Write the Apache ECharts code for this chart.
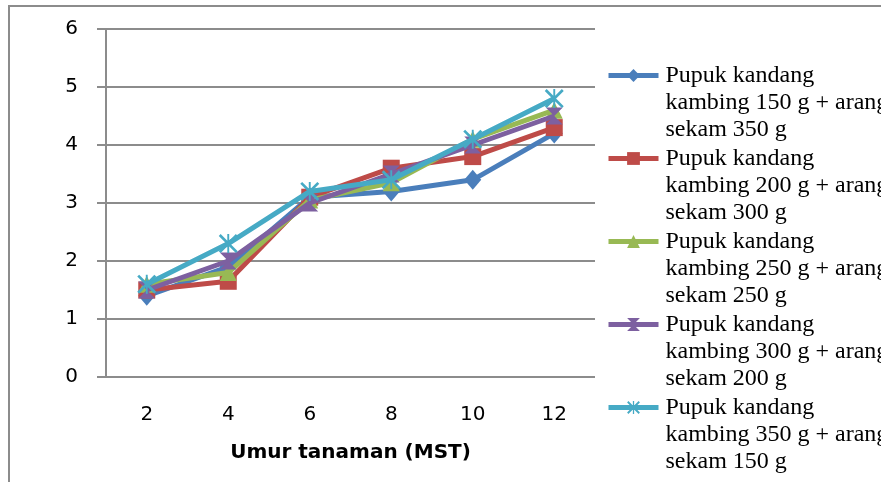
<!DOCTYPE html>
<html lang="id">
<head>
    <meta charset="UTF-8">
    <title>Umur tanaman (MST)</title>
    <script src="https://cdn.jsdelivr.net/npm/echarts/dist/echarts.min.js"></script>
    <style>
        body { margin: 0; background: #ffffff; }
        #frame {
            position: absolute; left: 8px; top: 5px; width: 900px; height: 500px;
            border-left: 2px solid #8c8c8c; border-top: 2px solid #8c8c8c;
        }
        #chart { position: absolute; left: 0; top: 0; width: 881px; height: 482px; }
    </style>
</head>
<body>
    <div id="frame"></div>
    <div id="chart"></div>
    <script>
        // data
        const weeks = ['2', '4', '6', '8', '10', '12'];
        const names = [
            'Pupuk kandang\nkambing 150 g + arang\nsekam 350 g',
            'Pupuk kandang\nkambing 200 g + arang\nsekam 300 g',
            'Pupuk kandang\nkambing 250 g + arang\nsekam 250 g',
            'Pupuk kandang\nkambing 300 g + arang\nsekam 200 g',
            'Pupuk kandang\nkambing 350 g + arang\nsekam 150 g'
        ];
        const k150 = [1.4, 1.9, 3.1, 3.2, 3.4, 4.2];
        const k200 = [1.5, 1.65, 3.1, 3.6, 3.8, 4.3];
        const k250 = [1.6, 1.8, 3.05, 3.35, 4.1, 4.6];
        const k300 = [1.5, 2.0, 3.0, 3.5, 4.0, 4.5];
        const k350 = [1.6, 2.3, 3.2, 3.4, 4.1, 4.8];
        const yTicks = [0, 1, 2, 3, 4, 5, 6];

        const colors = ['#4A7EBB', '#BE4B48', '#98B954', '#7D60A0', '#46AAC5'];
        const symbols = [
            'diamond',
            'rect',
            'triangle',
            'path://M0,0 L20,0 L10,10 L20,20 L0,20 L10,10 Z',
            'path://M0,2 L2,0 L20,18 L18,20 Z M18,0 L20,2 L2,20 L0,18 Z M9,0 L11,0 L11,20 L9,20 Z'
        ];
        const sizes = [[17, 20], 17, 17, [17, 17], [19, 19]];
        const allData = [k150, k200, k250, k300, k350];

        const series = allData.map((d, i) => ({
            name: names[i],
            type: 'line',
            data: d,
            symbol: symbols[i],
            symbolSize: sizes[i],
            itemStyle: { color: colors[i] },
            lineStyle: { color: colors[i], width: 5 },
            z: 2 + i
        }));

        const option = {
            animation: false,
            grid: { left: 106, right: 286, top: 29, bottom: 105 },
            legend: {
                orient: 'vertical',
                left: 601,
                top: 3,
                height: 700,
                itemGap: -52,
                itemWidth: 50,
                itemHeight: 16,
                lineStyle: { width: 5 },
                // two blank lines first so the icon sits on the first real line
                formatter: name => '\n\n' + name,
                textStyle: {
                    fontFamily: 'Liberation Serif',
                    fontSize: 24,
                    lineHeight: 27,
                    color: '#000000',
                    padding: [0, 0, 0, 2]
                },
                data: names
            },
            xAxis: {
                type: 'category',
                data: weeks,
                name: 'Umur tanaman (MST)',
                nameLocation: 'middle',
                nameGap: 66,
                nameTextStyle: { fontFamily: 'DejaVu Sans', fontWeight: 'bold', fontSize: 20, color: '#000000' },
                axisLine: { show: false },
                axisTick: { show: false },
                axisLabel: { fontFamily: 'DejaVu Sans', fontSize: 20, color: '#000000', margin: 28 }
            },
            yAxis: {
                type: 'value',
                min: yTicks[0],
                max: yTicks[yTicks.length - 1],
                interval: 1,
                axisLine: { show: true, lineStyle: { color: '#8c8c8c', width: 2 } },
                axisTick: { show: true, length: 9, lineStyle: { color: '#8c8c8c', width: 2 } },
                splitLine: { lineStyle: { color: '#8c8c8c', width: 2 } },
                axisLabel: { fontFamily: 'DejaVu Sans', fontSize: 20, color: '#000000', margin: 28 }
            },
            series: series
        };

        const chart = echarts.init(document.getElementById('chart'));
        chart.setOption(option);
    </script>
</body>
</html>
